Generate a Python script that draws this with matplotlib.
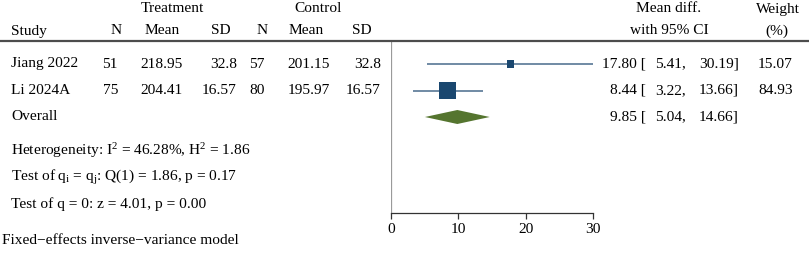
import matplotlib
matplotlib.use("Agg")
import matplotlib.pyplot as plt
from matplotlib import transforms
from matplotlib.lines import Line2D

plt.rcParams["font.family"] = ["Liberation Serif", "DejaVu Serif"]
plt.rcParams["mathtext.fontset"] = "custom"
plt.rcParams["mathtext.rm"] = "Liberation Serif"
plt.rcParams["mathtext.it"] = "Liberation Serif"

# data
studies = ["Jiang 2022", "Li 2024A"]
treat_n = [51, 75]
treat_mean = ["218.95", "204.41"]
treat_sd = ["32.8", "16.57"]
ctrl_n = [57, 80]
ctrl_mean = ["201.15", "195.97"]
ctrl_sd = ["32.8", "16.57"]
mean_diff = [17.80, 8.44]
ci_low = [5.41, 3.22]
ci_high = [30.19, 13.66]
weights = [15.07, 84.93]
overall = [9.85, 5.04, 14.66]
stats_lines = [
    r"Heterogeneity: I$^2$ = 46.28%, H$^2$ = 1.86",
    r"Test of q$_\mathrm{i}$ = q$_\mathrm{j}$: Q(1) = 1.86, p = 0.17",
    "Test of q = 0: z = 4.01, p = 0.00",
]
footnote = "Fixed\u2212effects inverse\u2212variance model"
xticks = [0, 10, 20, 30]

W, H = 809, 263
FS = 11.1
marker_col = "#1a476f"
line_col = "#587795"
diamond_col = "#55752f"

fig = plt.figure(figsize=(W / 100, H / 100), dpi=100)

# forest panel: x from 391px to 593px, y from header line (41px) to axis (213px)
row_px = 26.5
first_px = 64
ax = fig.add_axes([391 / W, 1 - 213 / H, 202 / W, 172 / H])
ax.set_xlim(0, 30)
ax.set_ylim(1 + (213 - first_px) / row_px, 1 - (first_px - 41) / row_px)
for s in ["top", "right", "left"]:
    ax.spines[s].set_visible(False)
ax.spines["bottom"].set_color("#333333")
ax.spines["bottom"].set_linewidth(0.9)
ax.set_yticks([])
ax.set_xticks(xticks)
ax.tick_params(axis="x", direction="out", length=4, width=0.9, color="#333333",
               labelsize=FS, pad=3)
ax.axvline(0, color="#9a9a9a", lw=0.9)

rows = [1, 2]
ax.hlines(rows, ci_low, ci_high, color=line_col, lw=1.2)
ax.scatter(mean_diff, rows, marker="s", s=[w * 1.75 for w in weights],
           color=marker_col, linewidths=0, zorder=3)

# overall diamond
orow = 3
hh = 7 / row_px
ax.fill([overall[1], overall[0], overall[2], overall[0]],
        [orow, orow - hh, orow, orow + hh], color=diamond_col, lw=0)

tr = transforms.blended_transform_factory(fig.transFigure, ax.transData)


def txt(xpx, y, s, ha="left"):
    ax.text(xpx / W, y, s, transform=tr, ha=ha, va="center", fontsize=FS,
            clip_on=False)


# headers
hdr1 = 1 - (first_px - 9) / row_px
hdr2 = 1 - (first_px - 31) / row_px
txt(172, hdr1, "Treatment", "center")
txt(318, hdr1, "Control", "center")
txt(669, hdr1, "Mean diff.", "center")
txt(778, hdr1, "Weight", "center")
txt(11, hdr2, "Study")
for xc, lab in zip([116, 162, 221, 262, 306, 362], ["N", "Mean", "SD", "N", "Mean", "SD"]):
    txt(xc, hdr2, lab, "center")
txt(669, hdr2, "with 95% CI", "center")
txt(777, hdr2, "(%)", "center")

# header rule
hy = 1 - 41 / H
fig.add_artist(Line2D([0, 1], [hy, hy], transform=fig.transFigure,
                      color="#4d4d4d", lw=1.6))

# study rows
for i, r in enumerate(rows):
    txt(11, r, studies[i])
    txt(118, r, str(treat_n[i]), "right")
    txt(183, r, treat_mean[i], "right")
    txt(237, r, treat_sd[i], "right")
    txt(265, r, str(ctrl_n[i]), "right")
    txt(330, r, ctrl_mean[i], "right")
    txt(381, r, ctrl_sd[i], "right")
    txt(646, r, f"{mean_diff[i]:.2f} [", "right")
    txt(686, r, f"{ci_low[i]:.2f},", "right")
    txt(739, r, f"{ci_high[i]:.2f}]", "right")
    txt(793, r, f"{weights[i]:.2f}", "right")

txt(11, orow, "Overall")
txt(646, orow, f"{overall[0]:.2f} [", "right")
txt(686, orow, f"{overall[1]:.2f},", "right")
txt(739, orow, f"{overall[2]:.2f}]", "right")

for k, line in enumerate(stats_lines):
    txt(11, orow + 1.27 + k, line)

txt(2, 1 + (241 - first_px) / row_px, footnote)

fig.savefig("out.png", dpi=100)
